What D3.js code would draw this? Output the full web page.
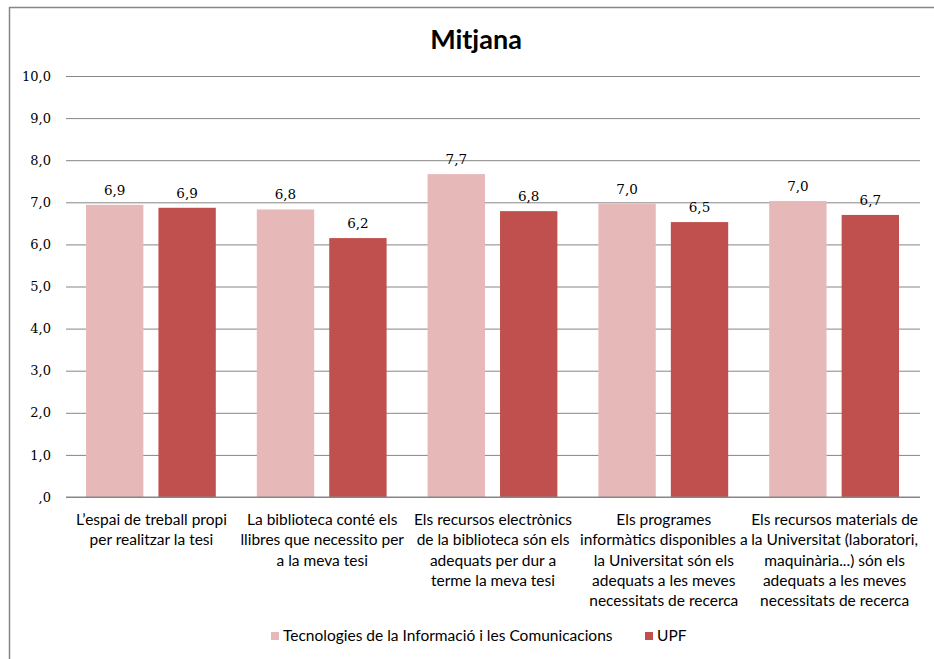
<!DOCTYPE html>
<html>
<head>
<meta charset="utf-8">
<script src="https://cdn.jsdelivr.net/npm/d3@7"></script>
<style>
  html, body { margin: 0; padding: 0; background: #fff; }
  svg { display: block; }
</style>
</head>
<body>
<svg id="chart" width="934" height="659"></svg>
<script>
const title = "Mitjana";
const categories = [
  ["L\u2019espai de treball propi", "per realitzar la tesi"],
  ["La biblioteca conté els", "llibres que necessito per", "a la meva tesi"],
  ["Els recursos electrònics", "de la biblioteca són els", "adequats per dur a", "terme la meva tesi"],
  ["Els programes", "informàtics disponibles a", "la Universitat són els", "adequats a les meves", "necessitats de recerca"],
  ["Els recursos materials de", "la Universitat (laboratori,", "maquinària...) són els", "adequats  a les meves", "necessitats de recerca"]
];
const seriesNames = ["Tecnologies de la Informació i les Comunicacions", "UPF"];
const ticSeries = [6.94, 6.83, 7.67, 6.97, 7.03];
const upfSeries = [6.87, 6.15, 6.79, 6.53, 6.70];
const valueLabelsTic = ["6,9", "6,8", "7,7", "7,0", "7,0"];
const valueLabelsUpf = ["6,9", "6,2", "6,8", "6,5", "6,7"];
const yTicks = [0, 1, 2, 3, 4, 5, 6, 7, 8, 9, 10];
const yTickLabels = [",0", "1,0", "2,0", "3,0", "4,0", "5,0", "6,0", "7,0", "8,0", "9,0", "10,0"];
const colors = ["#e6b9b8", "#c0504d"];

const svg = d3.select("#chart");
const plot = { left: 66, right: 920, top: 76, bottom: 497 };

svg.append("line").attr("x1", 9).attr("x2", 934).attr("y1", 7.5).attr("y2", 7.5)
  .attr("stroke", "#868686").attr("stroke-width", 1.5);
svg.append("line").attr("x1", 9.5).attr("x2", 9.5).attr("y1", 7).attr("y2", 659)
  .attr("stroke", "#868686").attr("stroke-width", 1.5);

svg.append("text").attr("x", 476).attr("y", 49).attr("text-anchor", "middle")
  .attr("font-family", "Lato, 'Open Sans', sans-serif").attr("font-weight", "bold")
  .attr("font-size", 27).attr("fill", "#000").text(title);

const y = d3.scaleLinear().domain([0, 10]).range([plot.bottom, plot.top]);
const x0 = d3.scaleBand().domain(d3.range(categories.length)).range([plot.left, plot.right]).paddingInner(0).paddingOuter(0);
const x1 = d3.scaleBand().domain([0, 1]).range([20, x0.bandwidth() - 21]).paddingInner(0.208).paddingOuter(0);

const yAxis = d3.axisLeft(y).tickValues(yTicks).tickSize(-(plot.right - plot.left))
  .tickFormat((d, i) => yTickLabels[i]).tickPadding(15);
const gA = svg.append("g").attr("transform", `translate(${plot.left},0)`).call(yAxis);
gA.select(".domain").remove();
gA.selectAll(".tick line").attr("stroke", "#868686").attr("stroke-width", 1);
gA.selectAll(".tick text").attr("font-family", "'DejaVu Serif', serif").attr("font-size", 13).attr("fill", "#000");

const groups = svg.append("g").selectAll("g").data(categories).join("g")
  .attr("transform", (d, i) => `translate(${x0(i)},0)`);

const seriesData = [ticSeries, upfSeries];
const labelData = [valueLabelsTic, valueLabelsUpf];
groups.each(function(d, i) {
  const g = d3.select(this);
  [0, 1].forEach(s => {
    const v = seriesData[s][i];
    g.append("rect").attr("x", x1(s)).attr("width", x1.bandwidth())
      .attr("y", y(v)).attr("height", y(0) - y(v)).attr("fill", colors[s]);
    g.append("text").attr("x", x1(s) + x1.bandwidth() / 2).attr("y", y(v) - 10)
      .attr("text-anchor", "middle").attr("font-family", "'DejaVu Serif', serif")
      .attr("font-size", 13.5).attr("fill", "#000").text(labelData[s][i]);
  });
  const t = g.append("text").attr("text-anchor", "middle")
    .attr("font-family", "Lato, 'Open Sans', sans-serif").attr("font-size", 15.5).attr("fill", "#000");
  d.forEach((line, k) => {
    t.append("tspan").attr("x", x0.bandwidth() / 2).attr("y", 525 + k * 20.3).text(line);
  });
});

svg.append("line").attr("x1", plot.left).attr("x2", plot.right).attr("y1", y(0)).attr("y2", y(0))
  .attr("stroke", "#868686").attr("stroke-width", 1);

const legend = svg.append("g").attr("font-family", "Lato, 'Open Sans', sans-serif").attr("font-size", 15.5);
const legendX = [271, 645];
seriesNames.forEach((name, s) => {
  legend.append("rect").attr("x", legendX[s]).attr("y", 632).attr("width", 8).attr("height", 8).attr("fill", colors[s]);
  legend.append("text").attr("x", legendX[s] + 12).attr("y", 641).attr("fill", "#000").text(name);
});
</script>
</body>
</html>
